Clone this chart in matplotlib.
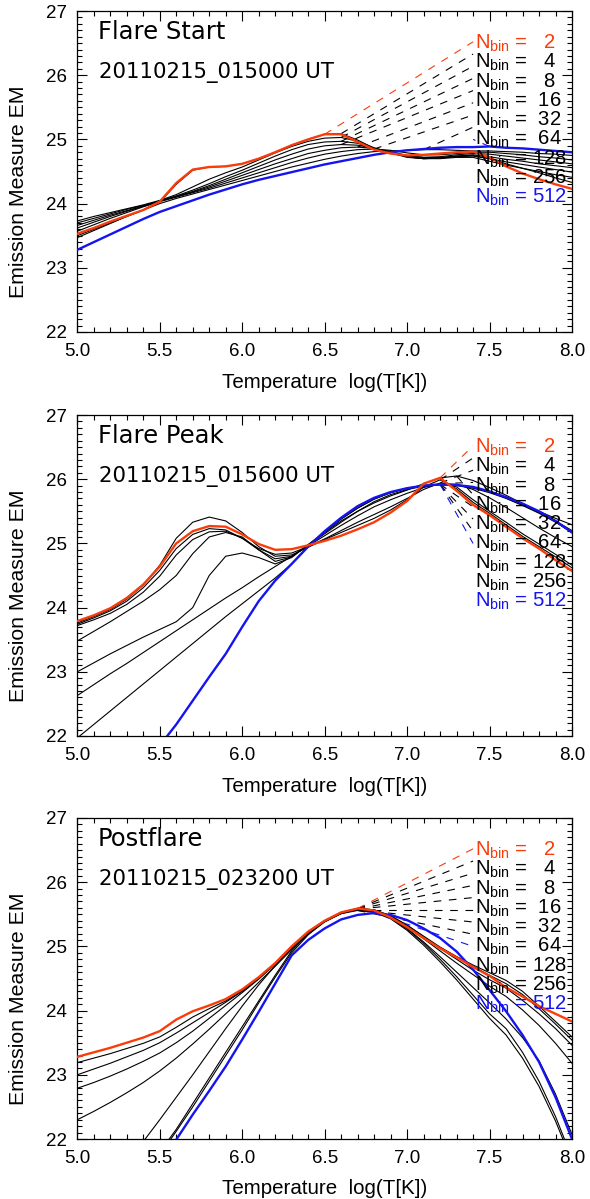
import matplotlib
matplotlib.use("Agg")
import matplotlib.pyplot as plt
from matplotlib.ticker import MultipleLocator, FormatStrFormatter
import numpy as np

plt.rcParams['font.family'] = ['Liberation Sans', 'DejaVu Sans']
plt.rcParams['mathtext.default'] = 'regular'
plt.rcParams['lines.scale_dashes'] = False

# ---------------- data ----------------
logT = [5.0, 5.1, 5.2, 5.3, 5.4, 5.5, 5.6, 5.7, 5.8, 5.9,
        6.0, 6.1, 6.2, 6.3, 6.4, 6.5, 6.6, 6.7, 6.8, 6.9,
        7.0, 7.1, 7.2, 7.3, 7.4, 7.5, 7.6, 7.7, 7.8, 7.9, 8.0]
nbins = [2, 4, 8, 16, 32, 64, 128, 256, 512]
titles = ["Flare Start", "Flare Peak", "Postflare"]
times = ["20110215_015000 UT", "20110215_015600 UT", "20110215_023200 UT"]

# Flare start
fs_2 = [23.53, 23.62, 23.72, 23.81, 23.90, 24.03, 24.32, 24.53, 24.57, 24.58, 24.62, 24.70, 24.80, 24.91, 25.00, 25.08, 25.08, 24.96, 24.84, 24.78, 24.75, 24.76, 24.78, 24.80, 24.81, 24.72, 24.58, 24.47, 24.38, 24.30, 24.23]
fs_4 = [23.50, 23.60, 23.70, 23.80, 23.90, 24.02, 24.30, 24.52, 24.57, 24.58, 24.62, 24.70, 24.80, 24.91, 25.00, 25.08, 25.09, 24.99, 24.86, 24.78, 24.74, 24.72, 24.72, 24.74, 24.75, 24.70, 24.62, 24.55, 24.48, 24.40, 24.33]
fs_8 = [23.73, 23.80, 23.86, 23.92, 23.98, 24.05, 24.14, 24.26, 24.38, 24.48, 24.57, 24.68, 24.79, 24.89, 24.97, 25.02, 25.03, 24.97, 24.87, 24.79, 24.73, 24.70, 24.70, 24.72, 24.72, 24.66, 24.60, 24.55, 24.50, 24.45, 24.41]
fs_16 = [23.70, 23.77, 23.84, 23.91, 23.97, 24.04, 24.12, 24.21, 24.31, 24.42, 24.52, 24.63, 24.74, 24.84, 24.92, 24.96, 24.97, 24.94, 24.86, 24.79, 24.72, 24.70, 24.71, 24.73, 24.74, 24.70, 24.65, 24.61, 24.57, 24.53, 24.49]
fs_32 = [23.66, 23.74, 23.82, 23.89, 23.96, 24.04, 24.11, 24.19, 24.28, 24.38, 24.48, 24.58, 24.68, 24.77, 24.85, 24.90, 24.92, 24.91, 24.86, 24.80, 24.73, 24.70, 24.71, 24.74, 24.76, 24.73, 24.69, 24.66, 24.62, 24.59, 24.56]
fs_64 = [23.62, 23.71, 23.80, 23.88, 23.96, 24.04, 24.11, 24.18, 24.26, 24.35, 24.44, 24.53, 24.62, 24.70, 24.78, 24.83, 24.87, 24.88, 24.86, 24.81, 24.75, 24.72, 24.73, 24.76, 24.78, 24.77, 24.74, 24.71, 24.68, 24.65, 24.62]
fs_128 = [23.57, 23.67, 23.77, 23.86, 23.95, 24.03, 24.10, 24.17, 24.24, 24.32, 24.40, 24.48, 24.56, 24.64, 24.71, 24.77, 24.81, 24.84, 24.85, 24.83, 24.79, 24.76, 24.76, 24.78, 24.80, 24.80, 24.78, 24.76, 24.73, 24.71, 24.68]
fs_256 = [23.47, 23.58, 23.69, 23.80, 23.90, 24.00, 24.08, 24.15, 24.22, 24.29, 24.36, 24.43, 24.50, 24.57, 24.63, 24.69, 24.74, 24.78, 24.81, 24.82, 24.83, 24.84, 24.84, 24.83, 24.82, 24.82, 24.81, 24.80, 24.78, 24.77, 24.75]
fs_512 = [23.28, 23.40, 23.52, 23.64, 23.76, 23.87, 23.96, 24.05, 24.14, 24.22, 24.30, 24.37, 24.43, 24.49, 24.55, 24.61, 24.66, 24.71, 24.76, 24.80, 24.83, 24.85, 24.87, 24.88, 24.88, 24.89, 24.87, 24.86, 24.84, 24.82, 24.80]

# Flare peak
pk_2 = [23.79, 23.88, 23.99, 24.15, 24.36, 24.64, 25.00, 25.19, 25.27, 25.26, 25.14, 24.99, 24.90, 24.91, 24.97, 25.04, 25.12, 25.22, 25.33, 25.48, 25.66, 25.93, 26.02, 25.82, 25.60, 25.44, 25.26, 25.08, 24.92, 24.74, 24.57]
pk_4 = [23.76, 23.86, 23.97, 24.13, 24.35, 24.66, 25.08, 25.33, 25.41, 25.35, 25.17, 24.95, 24.80, 24.82, 24.94, 25.06, 25.17, 25.28, 25.39, 25.52, 25.68, 25.88, 25.99, 25.85, 25.64, 25.47, 25.29, 25.11, 24.95, 24.79, 24.62]
pk_8 = [23.74, 23.84, 23.95, 24.10, 24.31, 24.58, 24.92, 25.14, 25.23, 25.21, 25.08, 24.92, 24.83, 24.85, 24.95, 25.07, 25.20, 25.33, 25.45, 25.57, 25.70, 25.84, 25.94, 25.88, 25.68, 25.50, 25.33, 25.15, 24.99, 24.83, 24.66]
pk_16 = [23.72, 23.81, 23.91, 24.05, 24.24, 24.49, 24.82, 25.06, 25.18, 25.19, 25.08, 24.90, 24.76, 24.80, 24.96, 25.12, 25.28, 25.43, 25.57, 25.68, 25.78, 25.87, 25.93, 25.92, 25.84, 25.71, 25.56, 25.40, 25.24, 25.09, 24.95]
pk_32 = [23.48, 23.63, 23.78, 23.94, 24.10, 24.28, 24.50, 24.84, 25.10, 25.17, 25.10, 24.90, 24.72, 24.79, 24.98, 25.17, 25.35, 25.50, 25.63, 25.74, 25.83, 25.93, 26.02, 26.05, 25.98, 25.87, 25.75, 25.62, 25.50, 25.39, 25.29]
pk_64 = [23.00, 23.14, 23.28, 23.41, 23.54, 23.66, 23.78, 24.00, 24.50, 24.80, 24.85, 24.78, 24.68, 24.78, 24.98, 25.18, 25.38, 25.55, 25.69, 25.79, 25.86, 25.90, 25.92, 25.91, 25.87, 25.80, 25.71, 25.60, 25.48, 25.35, 25.20]
pk_128 = [22.63, 22.80, 22.97, 23.13, 23.30, 23.47, 23.64, 23.81, 23.98, 24.15, 24.31, 24.48, 24.64, 24.80, 24.97, 25.15, 25.33, 25.50, 25.65, 25.76, 25.84, 25.89, 25.91, 25.90, 25.86, 25.79, 25.70, 25.59, 25.47, 25.33, 25.17]
pk_256 = [21.97, 22.18, 22.39, 22.60, 22.81, 23.02, 23.23, 23.44, 23.65, 23.86, 24.06, 24.26, 24.46, 24.68, 24.95, 25.18, 25.38, 25.55, 25.69, 25.79, 25.86, 25.90, 25.92, 25.91, 25.88, 25.81, 25.72, 25.61, 25.49, 25.34, 25.17]
pk_512 = [19.90, 20.30, 20.70, 21.10, 21.50, 21.85, 22.18, 22.55, 22.92, 23.28, 23.70, 24.10, 24.42, 24.68, 24.95, 25.19, 25.40, 25.58, 25.71, 25.80, 25.86, 25.90, 25.92, 25.91, 25.88, 25.81, 25.72, 25.62, 25.50, 25.35, 25.17]

# Postflare
pf_2 = [23.28, 23.35, 23.42, 23.50, 23.58, 23.68, 23.86, 23.99, 24.08, 24.18, 24.33, 24.52, 24.74, 25.00, 25.23, 25.40, 25.53, 25.59, 25.56, 25.45, 25.30, 25.13, 24.97, 24.83, 24.68, 24.54, 24.36, 24.22, 24.07, 23.95, 23.83]
pf_4 = [23.19, 23.26, 23.33, 23.41, 23.49, 23.59, 23.74, 23.90, 24.03, 24.15, 24.31, 24.51, 24.74, 25.00, 25.23, 25.40, 25.53, 25.59, 25.57, 25.47, 25.31, 25.14, 24.98, 24.84, 24.71, 24.59, 24.47, 24.30, 24.07, 23.83, 23.59]
pf_8 = [23.00, 23.09, 23.18, 23.28, 23.38, 23.50, 23.65, 23.81, 23.97, 24.13, 24.30, 24.50, 24.73, 24.99, 25.22, 25.40, 25.53, 25.59, 25.57, 25.48, 25.33, 25.16, 24.99, 24.84, 24.69, 24.55, 24.42, 24.25, 24.03, 23.79, 23.54]
pf_16 = [22.79, 22.88, 22.98, 23.09, 23.21, 23.34, 23.50, 23.68, 23.88, 24.08, 24.28, 24.49, 24.72, 24.97, 25.21, 25.39, 25.52, 25.58, 25.56, 25.47, 25.33, 25.15, 24.97, 24.80, 24.63, 24.48, 24.35, 24.16, 23.95, 23.72, 23.46]
pf_32 = [22.30, 22.43, 22.57, 22.72, 22.88, 23.06, 23.26, 23.48, 23.71, 23.95, 24.19, 24.44, 24.69, 24.95, 25.19, 25.38, 25.51, 25.58, 25.56, 25.46, 25.30, 25.12, 24.93, 24.74, 24.56, 24.38, 24.22, 24.01, 23.77, 23.49, 23.18]
pf_64 = [20.60, 20.95, 21.30, 21.63, 21.96, 22.30, 22.65, 23.00, 23.36, 23.72, 24.07, 24.40, 24.70, 24.98, 25.22, 25.40, 25.52, 25.57, 25.55, 25.45, 25.28, 25.07, 24.84, 24.60, 24.36, 24.12, 23.87, 23.58, 23.22, 22.70, 22.07]
pf_128 = [19.90, 20.30, 20.70, 21.10, 21.45, 21.80, 22.15, 22.55, 22.95, 23.35, 23.75, 24.15, 24.55, 24.93, 25.20, 25.40, 25.52, 25.57, 25.54, 25.44, 25.27, 25.05, 24.80, 24.53, 24.24, 23.95, 23.72, 23.35, 22.90, 22.35, 21.70]
pf_256 = [19.80, 20.20, 20.60, 21.00, 21.40, 21.75, 22.12, 22.50, 22.90, 23.30, 23.70, 24.12, 24.52, 24.90, 25.18, 25.39, 25.51, 25.56, 25.53, 25.43, 25.25, 25.02, 24.76, 24.48, 24.18, 23.88, 23.62, 23.26, 22.82, 22.28, 21.65]
pf_512 = [19.20, 19.70, 20.20, 20.65, 21.10, 21.55, 21.99, 22.38, 22.75, 23.13, 23.55, 23.98, 24.42, 24.86, 25.10, 25.28, 25.42, 25.49, 25.52, 25.49, 25.41, 25.28, 25.13, 24.92, 24.64, 24.32, 23.99, 23.62, 23.20, 22.65, 22.00]

panels = [
    [fs_2, fs_4, fs_8, fs_16, fs_32, fs_64, fs_128, fs_256, fs_512],
    [pk_2, pk_4, pk_8, pk_16, pk_32, pk_64, pk_128, pk_256, pk_512],
    [pf_2, pf_4, pf_8, pf_16, pf_32, pf_64, pf_128, pf_256, pf_512],
]

# ---------------- style ----------------
RED = '#fa3c0a'
BLUE = '#1414f0'

fig = plt.figure(figsize=(5.9, 11.99), dpi=100)
W, H = 590.0, 1199.0
left_px, right_px = 77.3, 572
tops = [11, 415, 818]
ph = 321

x = np.array(logT)
for p, curves in enumerate(panels):
    top = tops[p]
    ax = fig.add_axes([left_px / W, 1 - (top + ph) / H, (right_px - left_px) / W, ph / H])
    ax.set_xlim(5.0, 8.0)
    ax.set_ylim(22.0, 27.0)

    colors = [RED] + ['black'] * 7 + [BLUE]
    order = list(range(1, 8)) + [8, 0]
    for i in order:
        em = np.array(curves[i])
        lw = 1.7 if i in (0, 8) else 0.8
        ax.plot(x, em, color=colors[i], lw=lw, zorder=3 if i in (0, 8) else 2)
        k = int(np.argmax(em))
        ax.plot([x[k], 7.40], [em[k], 26.52 - 0.19 * i], color=colors[i], lw=0.8,
                dashes=(5.5, 5.5), zorder=2)
        ax.text(7.41, 26.41 - 0.30 * i, "$N_{bin}$ =" + f"{nbins[i]:4d}",
                color=colors[i], fontsize=14.6, ha='left', va='baseline', zorder=4)

    ax.text(5.125, 26.56, titles[p], fontsize=17.5, ha='left', va='baseline',
            family='DejaVu Sans')
    ax.text(5.13, 25.96, times[p], fontsize=15.3, ha='left', va='baseline',
            family='DejaVu Sans')

    ax.xaxis.set_major_locator(MultipleLocator(0.5))
    ax.xaxis.set_minor_locator(MultipleLocator(0.1))
    ax.yaxis.set_major_locator(MultipleLocator(1.0))
    ax.yaxis.set_minor_locator(MultipleLocator(0.1))
    ax.xaxis.set_major_formatter(FormatStrFormatter('%.1f'))
    ax.yaxis.set_major_formatter(FormatStrFormatter('%d'))
    ax.tick_params(which='both', direction='in', top=True, right=True, width=0.8)
    ax.tick_params(which='major', length=7.2, labelsize=13.5)
    ax.tick_params(axis='x', which='major', pad=8)
    ax.tick_params(axis='y', which='major', pad=7.5)
    ax.tick_params(which='minor', length=3.8)
    for s in ax.spines.values():
        s.set_linewidth(0.9)
    ax.set_xlabel("Temperature  log(T[K])", fontsize=14.8)
    ax.set_ylabel("Emission Measure EM", fontsize=15.3)
    ax.xaxis.set_label_coords(0.5, -50.0 / ph)
    ax.xaxis.label.set_va('center')
    ax.yaxis.set_label_coords(-59.0 / (right_px - left_px), 0.5 - 20.0 / ph)
    ax.yaxis.label.set_va('center')

fig.savefig("out.png", dpi=100)
